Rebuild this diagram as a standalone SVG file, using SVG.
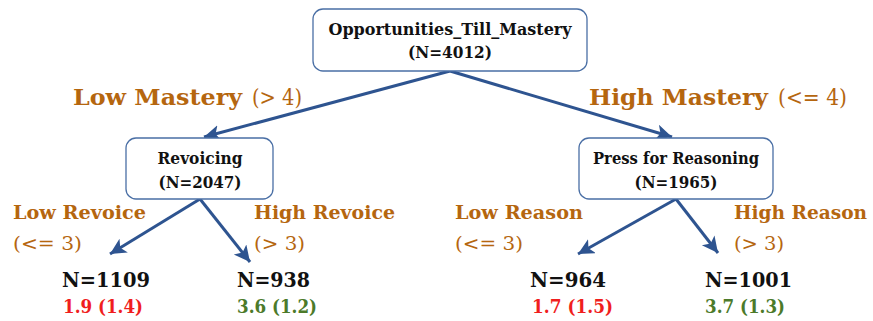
<svg xmlns="http://www.w3.org/2000/svg" width="873" height="321" viewBox="0 0 873 321">
<style>
text{font-family:'DejaVu Serif',serif}
.box{fill:#fff;stroke:#4a6fa5;stroke-width:1.3}
.nt{font-weight:bold;font-size:16px;fill:#111;text-anchor:middle}
.edge{stroke:#2e5490;stroke-width:3;fill:none}
.lbl{fill:#b5660f}
.big{font-size:23px}
.mid{font-size:18.5px}
.b{font-weight:bold}
.leaf{font-weight:bold;font-size:21px;fill:#111}
.red{font-weight:bold;font-size:18px;fill:#f01e1e}
.grn{font-weight:bold;font-size:18px;fill:#4c7a2a}
</style>
<defs>
<marker id="ah" markerUnits="userSpaceOnUse" markerWidth="20" markerHeight="20" refX="16" refY="8" orient="auto">
<path d="M0,0 L16,8 L0,16 L4,8 Z" fill="#2e5490"/>
</marker>
</defs>
<g id="connectors">
<line class="edge" x1="450" y1="71" x2="204" y2="137" marker-end="url(#ah)"/>
<line class="edge" x1="450" y1="71" x2="672" y2="137" marker-end="url(#ah)"/>
<line class="edge" x1="200" y1="199" x2="110" y2="254" marker-end="url(#ah)"/>
<line class="edge" x1="200" y1="199" x2="250" y2="262" marker-end="url(#ah)"/>
<line class="edge" x1="676" y1="199" x2="578" y2="254" marker-end="url(#ah)"/>
<line class="edge" x1="676" y1="199" x2="718" y2="253" marker-end="url(#ah)"/>
</g>
<g id="root">
<rect class="box" x="313" y="9" width="274" height="62" rx="10"/>
<text class="nt" x="450" y="35" textLength="243" lengthAdjust="spacingAndGlyphs">Opportunities_Till_Mastery</text>
<text class="nt" x="450" y="58" textLength="84" lengthAdjust="spacingAndGlyphs">(N=4012)</text>
</g>
<g id="revoicing">
<rect class="box" x="126" y="138" width="147" height="61" rx="10"/>
<text class="nt" x="200" y="164" textLength="85" lengthAdjust="spacingAndGlyphs">Revoicing</text>
<text class="nt" x="200" y="188" textLength="83" lengthAdjust="spacingAndGlyphs">(N=2047)</text>
</g>
<g id="press">
<rect class="box" x="579" y="138" width="194" height="61" rx="10"/>
<text class="nt" x="676" y="164" textLength="166" lengthAdjust="spacingAndGlyphs">Press for Reasoning</text>
<text class="nt" x="676" y="188" textLength="83" lengthAdjust="spacingAndGlyphs">(N=1965)</text>
</g>
<g id="edge-labels">
<text class="lbl big b" x="73" y="105" textLength="169" lengthAdjust="spacingAndGlyphs">Low Mastery</text>
<text class="lbl big" x="252" y="105" textLength="50" lengthAdjust="spacingAndGlyphs">(&gt; 4)</text>
<text class="lbl big b" x="589" y="105" textLength="179" lengthAdjust="spacingAndGlyphs">High Mastery</text>
<text class="lbl big" x="778" y="105" textLength="69" lengthAdjust="spacingAndGlyphs">(&lt;= 4)</text>
<text class="lbl mid b" x="13" y="219" textLength="133" lengthAdjust="spacingAndGlyphs">Low Revoice</text>
<text class="lbl mid" x="13" y="250" textLength="69" lengthAdjust="spacingAndGlyphs">(&lt;= 3)</text>
<text class="lbl mid b" x="254" y="219" textLength="141" lengthAdjust="spacingAndGlyphs">High Revoice</text>
<text class="lbl mid" x="254" y="250" textLength="51" lengthAdjust="spacingAndGlyphs">(&gt; 3)</text>
<text class="lbl mid b" x="455" y="219" textLength="128" lengthAdjust="spacingAndGlyphs">Low Reason</text>
<text class="lbl mid" x="455" y="250" textLength="68" lengthAdjust="spacingAndGlyphs">(&lt;= 3)</text>
<text class="lbl mid b" x="734" y="219" textLength="133" lengthAdjust="spacingAndGlyphs">High Reason</text>
<text class="lbl mid" x="734" y="250" textLength="50" lengthAdjust="spacingAndGlyphs">(&gt; 3)</text>
</g>
<g id="leaf1">
<text class="leaf" x="62" y="287" textLength="88" lengthAdjust="spacingAndGlyphs">N=1109</text>
<text class="red" x="63" y="313" textLength="80" lengthAdjust="spacingAndGlyphs">1.9 (1.4)</text>
</g>
<g id="leaf2">
<text class="leaf" x="237" y="287" textLength="73" lengthAdjust="spacingAndGlyphs">N=938</text>
<text class="grn" x="237" y="313" textLength="80" lengthAdjust="spacingAndGlyphs">3.6 (1.2)</text>
</g>
<g id="leaf3">
<text class="leaf" x="530" y="287" textLength="76" lengthAdjust="spacingAndGlyphs">N=964</text>
<text class="red" x="532" y="313" textLength="81" lengthAdjust="spacingAndGlyphs">1.7 (1.5)</text>
</g>
<g id="leaf4">
<text class="leaf" x="705" y="287" textLength="87" lengthAdjust="spacingAndGlyphs">N=1001</text>
<text class="grn" x="705" y="313" textLength="80" lengthAdjust="spacingAndGlyphs">3.7 (1.3)</text>
</g>
</svg>
